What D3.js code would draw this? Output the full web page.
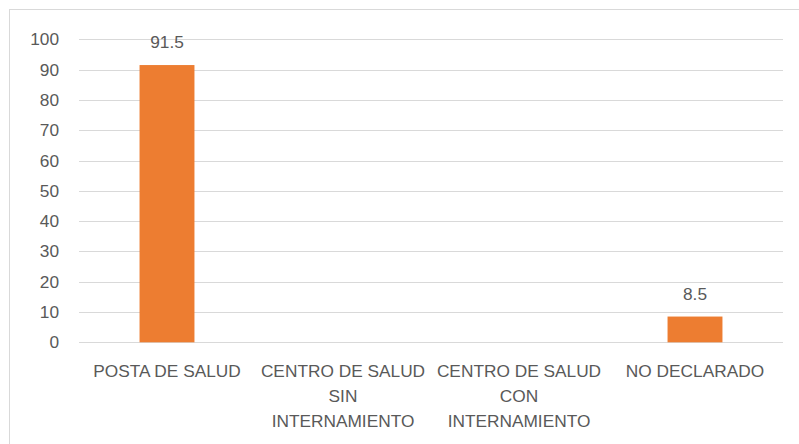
<!DOCTYPE html>
<html><head><meta charset="utf-8">
<script src="https://cdn.jsdelivr.net/npm/d3@7"></script>
<style>body{margin:0;background:#fff}svg{display:block}text{font-family:"Liberation Sans",Arial,sans-serif;fill:#595959}</style>
</head><body>
<svg id="c" width="799" height="444"></svg>
<script>
const categories = [["POSTA DE SALUD"],["CENTRO DE SALUD","SIN","INTERNAMIENTO"],["CENTRO DE SALUD","CON","INTERNAMIENTO"],["NO DECLARADO"]];
const values = [91.5, null, null, 8.5];
const yTicks = [0,10,20,30,40,50,60,70,80,90,100];

const svg = d3.select("#c");
svg.append("rect").attr("x",9.5).attr("y",9.5).attr("width",800).attr("height",440)
  .attr("fill","#fff").attr("stroke","#d9d9d9").attr("stroke-width",1);

const plotL=79, plotR=783, plotT=39.3, plotB=342.3;
const x = d3.scaleBand().domain(d3.range(categories.length)).range([plotL,plotR]).padding(0);
const y = d3.scaleLinear().domain([0,100]).range([plotB,plotT]);
const fs = 17.3;

svg.append("g").selectAll("line").data(yTicks).join("line")
  .attr("x1",plotL).attr("x2",plotR).attr("y1",d=>Math.round(y(d))+0.5).attr("y2",d=>Math.round(y(d))+0.5)
  .attr("stroke","#d9d9d9").attr("stroke-width",1);

svg.append("g").selectAll("text").data(yTicks).join("text")
  .attr("x",59).attr("y",d=>y(d)+6).attr("text-anchor","end").attr("font-size",fs).text(d=>d);

const bw = x.bandwidth()*0.312;
const data = values.map((v,i)=>({i,v})).filter(d=>d.v!=null);
svg.append("g").selectAll("rect").data(data).join("rect")
  .attr("x",d=>x(d.i)+x.bandwidth()/2-bw/2).attr("width",bw)
  .attr("y",d=>y(d.v)).attr("height",d=>y(0)-y(d.v)).attr("fill","#ED7D31");

svg.append("g").selectAll("text").data(data).join("text")
  .attr("x",d=>x(d.i)+x.bandwidth()/2).attr("y",d=>y(d.v)-17)
  .attr("text-anchor","middle").attr("font-size",fs).text(d=>d.v);

const cat = svg.append("g").selectAll("text").data(categories).join("text")
  .attr("text-anchor","middle").attr("font-size",fs);
cat.each(function(lines,i){
  d3.select(this).selectAll("tspan").data(lines).join("tspan")
    .attr("x",x(i)+x.bandwidth()/2).attr("y",(d,j)=>376.5+j*25).text(d=>d);
});
</script>
</body></html>
